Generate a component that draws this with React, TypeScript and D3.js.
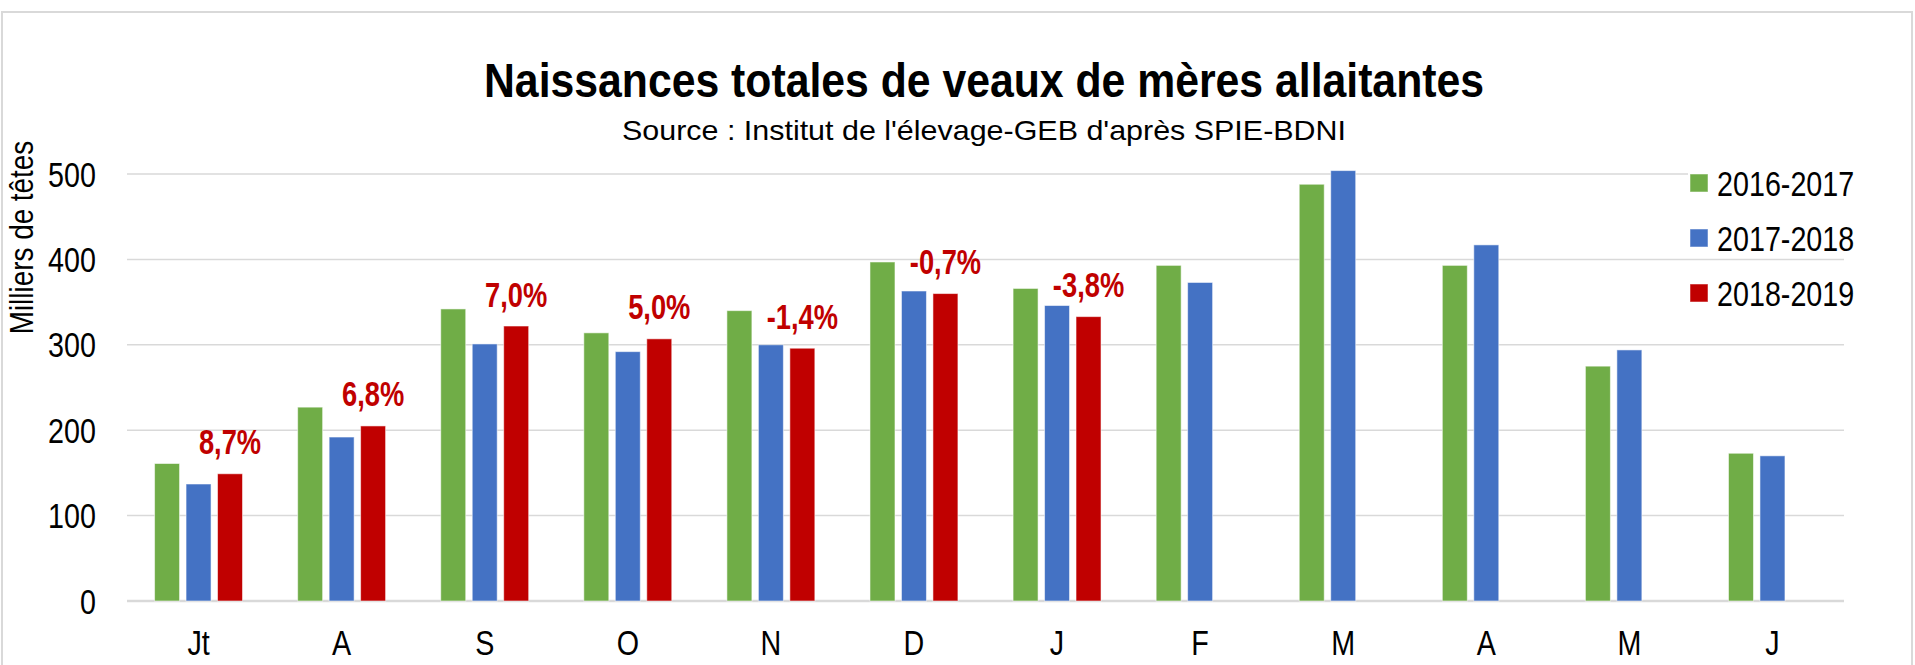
import React from 'react';
import * as d3 from 'd3';

const months = ['Jt', 'A', 'S', 'O', 'N', 'D', 'J', 'F', 'M', 'A', 'M', 'J'];
const seriesNames = ['2016-2017', '2017-2018', '2018-2019'];
const values1617 = [161, 227, 342, 314, 340, 397, 366, 393, 488, 393, 275, 173];
const values1718 = [137, 192, 301, 292, 300, 363, 346, 373, 504, 417, 294, 170];
const values1819 = [149, 205, 322, 307, 296, 360, 333, null, null, null, null, null];
const changeLabels = ['8,7%', '6,8%', '7,0%', '5,0%', '-1,4%', '-0,7%', '-3,8%'];
const yTicks = [0, 100, 200, 300, 400, 500];

const colors = ['#70AD47', '#4472C4', '#C00000'];
const FONT = '"Liberation Sans", Arial, sans-serif';

// narrow text: the original uses Arial Narrow, squeeze Liberation Sans horizontally
function NText({ x, y, sx = 0.82, anchor = 'start', size = 35, weight = 'normal', fill = '#000', dy, children }: any) {
  return (
    <text transform={`translate(${x},${y}) scale(${sx},1)`} textAnchor={anchor} fontSize={size}
      fontWeight={weight} fill={fill} dy={dy}>
      {children}
    </text>
  );
}

export default function App() {
  const width = 1915;
  const height = 665;
  const left = 127;
  const right = 1844;
  const top = 174;
  const bottom = 601;

  const series = [values1617, values1718, values1819];

  const x0 = d3.scaleBand<number>()
    .domain(months.map((_, i) => i))
    .range([left, right])
    .paddingInner(0.34)
    .paddingOuter(0.17);

  const x1 = d3.scaleBand<number>()
    .domain([0, 1, 2])
    .range([0, x0.bandwidth()])
    .paddingInner(0.206)
    .paddingOuter(0.103);

  const y = d3.scaleLinear().domain([0, 500]).range([bottom, top]);

  const step = x0.step();
  const centre = (i: number) => left + step * (i + 0.5);

  return (
    <svg width={width} height={height} style={{ position: 'absolute', left: 0, top: 0, background: '#fff' }}
      fontFamily={FONT}>
      <rect x={2} y={12} width={1910} height={700} fill="#fff" stroke="#D9D9D9" strokeWidth={2} />

      {/* grid */}
      {yTicks.map(t => (
        <line key={t} x1={left} x2={t === 500 ? 1688 : right} y1={y(t)} y2={y(t)}
          stroke="#D9D9D9" strokeWidth={t === 0 ? 2.5 : 1.5} />
      ))}
      {yTicks.map(t => (
        <NText key={'l' + t} x={96} y={y(t)} dy="0.36em" anchor="end">{t}</NText>
      ))}

      <text transform={`translate(33,237.5) rotate(-90) scale(0.82,1)`} textAnchor="middle" fontSize={34} fill="#000">
        Milliers de têtes
      </text>

      {/* bars */}
      {series.map((vals, s) => (
        <g key={s} fill={colors[s]}>
          {vals.map((v, i) => v == null ? null : (
            <rect key={i}
              x={(x0(i) as number) + (x1(s) as number)}
              y={y(v)}
              width={x1.bandwidth()}
              height={y(0) - y(v)}
              stroke="#fff" strokeOpacity={0.55} strokeWidth={1} />
          ))}
        </g>
      ))}

      {/* change labels */}
      {changeLabels.map((lab, i) => (
        <NText key={'c' + i}
          x={(x0(i) as number) + (x1(2) as number) + x1.bandwidth() / 2}
          y={y(values1819[i] as number) - 19.5}
          anchor="middle" sx={0.78} weight="bold" fill="#C00000">
          {lab}
        </NText>
      ))}

      {/* categories */}
      {months.map((m, i) => (
        <NText key={'m' + i} x={centre(i)} y={655} anchor="middle">{m}</NText>
      ))}

      {/* title */}
      <text x={984} y={97} textAnchor="middle" fontSize={48} fontWeight="bold" fill="#000"
        textLength={1000} lengthAdjust="spacingAndGlyphs">
        Naissances totales de veaux de mères allaitantes
      </text>
      <text x={984} y={140} textAnchor="middle" fontSize={28} fill="#000"
        textLength={724} lengthAdjust="spacingAndGlyphs">
        Source : Institut de l'élevage-GEB d'après SPIE-BDNI
      </text>

      {/* legend */}
      {seriesNames.map((n, i) => (
        <g key={n} transform={`translate(1690,${183 + i * 55})`}>
          <rect x={0} y={-9} width={18} height={18} fill={colors[i]} stroke="#fff" strokeOpacity={0.5} />
          <NText x={27} y={0} dy="0.36em">{n}</NText>
        </g>
      ))}
    </svg>
  );
}
